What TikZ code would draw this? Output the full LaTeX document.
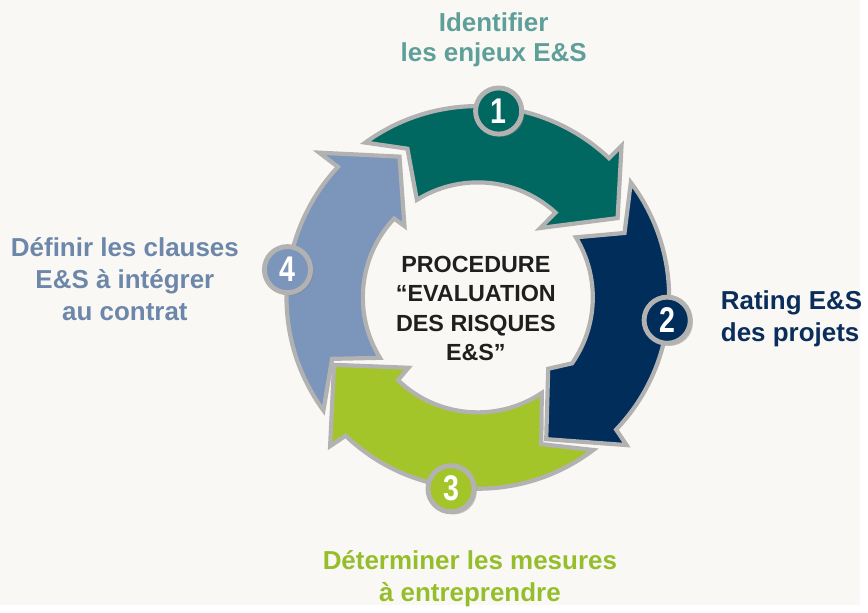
\documentclass[tikz,border=0pt]{standalone}
\usepackage{fontspec}
\setmainfont{Liberation Sans}
\usepackage{graphicx}
\usetikzlibrary{calc,shadows}
\definecolor{fond}{HTML}{F9F8F4}
\definecolor{bord}{HTML}{B2B2B2}
\definecolor{vert1}{HTML}{006860}
\definecolor{bleu2}{HTML}{002D59}
\definecolor{vert3}{HTML}{A3C52A}
\definecolor{bleu4}{HTML}{7C95BA}
\definecolor{txt1}{HTML}{5E9F99}
\definecolor{txt2}{HTML}{0B2D5B}
\definecolor{txt3}{HTML}{96BE2C}
\definecolor{txt4}{HTML}{6D87AA}
\tikzset{
    fleche/.style={draw=bord,line width=2.4pt,line join=miter},
    pastille/.style={circle,draw=bord,line width=2.8pt,minimum size=26.5pt,inner sep=0pt,text=white,
        font=\bfseries\fontsize{20.5}{20.5}\selectfont,
        drop shadow={shadow xshift=1.5pt,shadow yshift=-1.5pt,opacity=.45}},
    etiquette/.style={align=center,font=\bfseries\fontsize{14.9}{18.4}\selectfont},
}

\begin{document}
\begin{tikzpicture}[x=0.02cm,y=-0.02cm]
                \fill[fond](0,0)rectangle(868,610);
                \coordinate(C)at(482,300);
                \filldraw[fleche,fill=vert1]($(C)+(-126:193)$)arc[start angle=-126,end angle=-46.7,radius=193]--(627,147)--(623,220)--(545,230)--($(C)+(-47.5:116)$)arc[start angle=-47.5,end angle=-122,radius=116]--(411,150)--cycle;
                \filldraw[fleche,fill=bleu2]($(C)+(-36.9:193)$)arc[start angle=-36.9,end angle=43.7,radius=193]--(632,449)--(551,443)--(553,372)--($(C)+(35:116)$)arc[start angle=35,end angle=-31.5,radius=116]--(630,235)--cycle;
                \filldraw[fleche,fill=vert3]($(C)+(52.9:193)$)arc[start angle=52.9,end angle=133.7,radius=193]--(333,450)--(337,368)--(412,371)--($(C)+(134:116)$)arc[start angle=134,end angle=56.2,radius=116]--(546,448)--cycle;
                \filldraw[fleche,fill=bleu4]($(C)+(143.8:193)$)--(335,362)--($(C)+(148.3:116)$)arc[start angle=148.3,end angle=223.3,radius=116]--(408,228)--(403,158)--(322,154)--($(C)+(223:193)$)arc[start angle=223,end angle=143.8,radius=193]--cycle;
                \node[pastille,fill=vert1](p1)at(503,112){\scalebox{.8}[1]{1}};
                \node[pastille,fill=bleu2](p2)at(673,323){\scalebox{.8}[1]{2}};
                \node[pastille,fill=vert3](p3)at(455,493){\scalebox{.8}[1]{3}};
                \node[pastille,fill=bleu4](p4)at(290,272){\scalebox{.8}[1]{4}};
                \node[font=\bfseries\fontsize{13.4}{16.9}\selectfont,align=center,text=black!88](centre)at(480,311){PROCEDURE\\“EVALUATION\\DES RISQUES\\E\&S”};
                \node[etiquette,text=txt1,font=\bfseries\fontsize{14.9}{17.2}\selectfont](e1)at(498,40){Identifier\\les enjeux E\&S};
                \node[etiquette,text=txt2,align=left,anchor=west](e2)at(721,322){Rating E\&S\\des projets};
                \node[etiquette,text=txt3](e3)at(474,584){Déterminer les mesures\\à entreprendre};
                \node[etiquette,text=txt4](e4)at(126,282){Définir les clauses\\E\&S à intégrer\\au contrat};
            \end{tikzpicture}
\end{document}
